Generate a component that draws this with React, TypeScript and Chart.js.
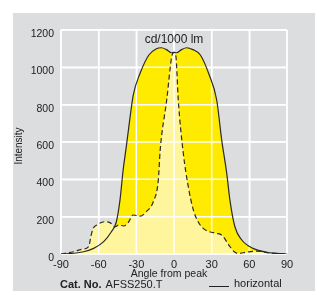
import { useEffect, useRef } from "react";
import { Chart, registerables } from "chart.js";

Chart.register(...registerables);

// Solid curve: "horizontal"
const horizontalAngles = [-90, -80, -72, -64, -56, -50, -46, -43, -40.5, -38, -36, -32.5, -27, -20, -14, -10, -6, -2, 0, 2, 6, 10, 15, 21, 28, 34, 38, 42, 44.5, 48.5, 54, 63, 74, 90];
const horizontalValues = [0, 4, 12, 30, 66, 118, 170, 290, 450, 575, 680, 850, 968, 1066, 1100, 1105, 1095, 1078, 1080, 1078, 1095, 1105, 1095, 1066, 960, 825, 610, 432, 290, 146, 75, 30, 9, 0];

// Dashed curve
const dashedAngles = [-90, -80, -73.5, -68, -66, -64.5, -61.5, -55, -51, -47, -44, -40, -36.5, -32.5, -27, -22, -16.5, -12.5, -11, -5.8, -1.8, 0, 1.5, 3.4, 7.4, 11.4, 15.4, 19, 23.3, 28, 34, 37, 39.3, 42, 44.6, 48, 51, 58, 66, 76, 90];
const dashedValues = [0, 12, 25, 39, 100, 135, 155, 173, 168, 146, 155, 150, 168, 209, 203, 227, 280, 396, 557, 825, 1057, 1080, 1060, 825, 540, 360, 236, 175, 137, 120, 110, 105, 93, 65, 39, 12, 3, 10, 15, 6, 0];

const xMin = -90;
const xMax = 90;
const xStep = 30;
const yMin = 0;
const yMax = 1200;
const yStep = 200;

const FONT = "'Liberation Sans', Arial, sans-serif";

export default function App() {
  const ref = useRef<HTMLCanvasElement>(null);

  useEffect(() => {
    const canvas = ref.current;
    if (!canvas) return;

    const bgPlugin = {
      id: "panelBg",
      beforeDraw(chart: any) {
        const { ctx, width, height } = chart;
        ctx.save();
        ctx.fillStyle = "#dcdddf";
        ctx.fillRect(13, 13, width - 13, height - 13);
        ctx.restore();
      },
    };

    const gridOverFill = {
      id: "gridOverFill",
      beforeDatasetsDraw(chart: any) {
        const { ctx, chartArea, scales } = chart;
        ctx.save();
        ctx.strokeStyle = "#ffffff";
        ctx.lineWidth = 1.5;
        for (const t of scales.x.ticks) {
          const px = scales.x.getPixelForValue(t.value);
          ctx.beginPath();
          ctx.moveTo(px, chartArea.top);
          ctx.lineTo(px, chartArea.bottom);
          ctx.stroke();
        }
        for (const t of scales.y.ticks) {
          const py = scales.y.getPixelForValue(t.value);
          ctx.beginPath();
          ctx.moveTo(chartArea.left, py);
          ctx.lineTo(chartArea.right, py);
          ctx.stroke();
        }
        ctx.restore();
      },
    };

    const textPlugin = {
      id: "texts",
      afterDraw(chart: any) {
        const { ctx, chartArea } = chart;
        ctx.save();
        ctx.fillStyle = "#222222";
        ctx.textBaseline = "middle";

        // unit title
        ctx.font = `12px ${FONT}`;
        ctx.textAlign = "center";
        ctx.fillText("cd/1000 lm", (chartArea.left + chartArea.right) / 2, 40);

        // x axis title
        ctx.font = `10.5px ${FONT}`;
        ctx.fillText("Angle from peak", 169, 274);

        // y axis title
        ctx.save();
        ctx.translate(19, 146);
        ctx.rotate(-Math.PI / 2);
        ctx.font = `10px ${FONT}`;
        ctx.fillText("Intensity", 0, 0);
        ctx.restore();

        // Cat. No.
        ctx.textAlign = "left";
        ctx.font = `bold 11px ${FONT}`;
        ctx.fillText("Cat. No.", 60, 285);
        const w = ctx.measureText("Cat. No. ").width;
        ctx.font = `11px ${FONT}`;
        ctx.fillText("AFSS250.T", 60 + w + 1, 285);

        // legend
        ctx.strokeStyle = "#222222";
        ctx.lineWidth = 1;
        ctx.beginPath();
        ctx.moveTo(209, 286.5);
        ctx.lineTo(229, 286.5);
        ctx.stroke();
        ctx.fillText("horizontal", 234, 284);

        ctx.restore();
      },
    };

    const chart = new Chart(canvas, {
      type: "line",
      data: {
        datasets: [
          {
            label: "dashed",
            data: dashedAngles.map((a, i) => ({ x: a, y: dashedValues[i] })),
            borderColor: "#2a2a2a",
            borderWidth: 1.2,
            borderDash: [5, 3],
            backgroundColor: "#fff59c",
            fill: "origin",
            pointRadius: 0,
            cubicInterpolationMode: "monotone",
          },
          {
            label: "horizontal",
            data: horizontalAngles.map((a, i) => ({ x: a, y: horizontalValues[i] })),
            borderColor: "#2a2a2a",
            borderWidth: 1.2,
            backgroundColor: "#ffeb00",
            fill: "origin",
            pointRadius: 0,
            cubicInterpolationMode: "monotone",
          },
        ],
      },
      options: {
        responsive: false,
        animation: false,
        layout: { padding: { left: 0, right: 28, top: 30, bottom: 0 } },
        plugins: {
          legend: { display: false },
          tooltip: { enabled: false },
          filler: { drawTime: "beforeDatasetsDraw" },
        } as any,
        scales: {
          x: {
            type: "linear",
            min: xMin,
            max: xMax,
            grid: { color: "#ffffff", lineWidth: 1.5, drawTicks: false },
            border: { display: false },
            ticks: {
              stepSize: xStep,
              padding: 4,
              maxRotation: 0,
              color: "#222222",
              font: { family: FONT, size: 11 },
              callback: (v: any) => String(v),
            },
            afterFit: (s: any) => {
              s.height = 37;
            },
          },
          y: {
            min: yMin,
            max: yMax,
            grid: { color: "#ffffff", lineWidth: 1.5, drawTicks: false },
            border: { display: false },
            ticks: {
              stepSize: yStep,
              padding: 7,
              labelOffset: 4,
              color: "#222222",
              font: { family: FONT, size: 10.5 },
              callback: (v: any) => String(v),
            },
            afterFit: (s: any) => {
              s.width = 61;
            },
          },
        },
      },
      plugins: [bgPlugin, gridOverFill, textPlugin],
    });

    return () => chart.destroy();
  }, []);

  return (
    <canvas
      ref={ref}
      width={315}
      height={291}
      style={{ position: "absolute", left: 0, top: 0, width: 315, height: 291 }}
    />
  );
}
